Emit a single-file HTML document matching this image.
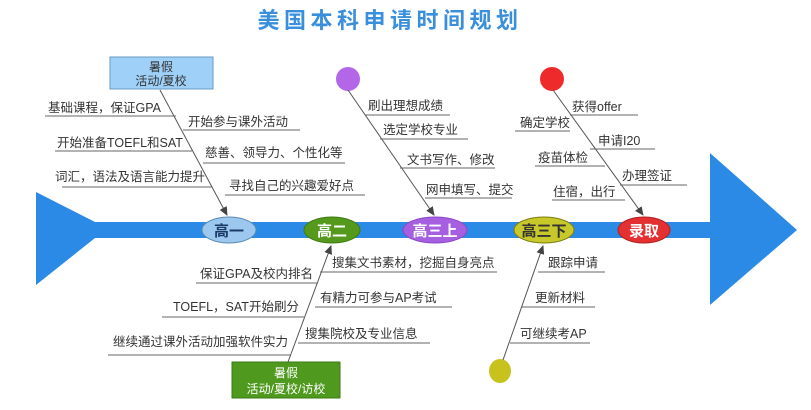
<!DOCTYPE html>
<html><head><meta charset="utf-8"><style>
html,body{margin:0;padding:0;background:#fff;}
svg{display:block;}
text{font-family:"Liberation Sans","Noto Sans CJK SC",sans-serif;}
.t{font-size:12.5px;fill:#333;}
.u{stroke:#666;stroke-width:1;}
.l{stroke:#555;stroke-width:1;fill:none;}
.e{font-size:15px;font-weight:bold;}
</style></head><body>
<svg width="811" height="410" viewBox="0 0 811 410" xmlns="http://www.w3.org/2000/svg">
<defs>
<marker id="ar" markerWidth="10" markerHeight="10" refX="8" refY="5" orient="auto" markerUnits="userSpaceOnUse">
<path d="M0,1 L9,5 L0,9 Z" fill="#444"/></marker>
</defs>
<rect width="811" height="410" fill="#fff"/>
<text x="390" y="28" text-anchor="middle" style="font-size:22px;font-weight:bold;letter-spacing:4.5px;fill:#3a8fdc">美国本科申请时间规划</text>

<polygon points="36,192 95,222 710,222 710,153 797,230 710,305 710,238 95,238 36,285" fill="#2b8ae6"/>

<!-- top box -->
<rect x="110" y="57" width="103" height="32" fill="#9fd0f8" stroke="#6a9ac0"/>
<text x="161" y="71" text-anchor="middle" class="t" style="font-size:12px">暑假</text>
<text x="161" y="85" text-anchor="middle" class="t" style="font-size:12px">活动/夏校</text>
<line x1="160" y1="90" x2="227" y2="215" class="l" marker-end="url(#ar)"/>

<text x="48" y="112" class="t">基础课程，保证GPA</text><line x1="45" y1="116" x2="176" y2="116" class="u"/>
<text x="188" y="126" class="t">开始参与课外活动</text><line x1="183" y1="130" x2="300" y2="130" class="u"/>
<text x="57" y="147" class="t">开始准备TOEFL和SAT</text><line x1="55" y1="151" x2="192" y2="151" class="u"/>
<text x="205" y="157" class="t">慈善、领导力、个性化等</text><line x1="203" y1="163" x2="345" y2="163" class="u"/>
<text x="55" y="181" class="t">词汇，语法及语言能力提升</text><line x1="62" y1="187" x2="212" y2="187" class="u"/>
<text x="229" y="190" class="t">寻找自己的兴趣爱好点</text><line x1="225" y1="195" x2="365" y2="195" class="u"/>

<!-- purple -->
<circle cx="348" cy="79" r="12" fill="#b366e8"/>
<line x1="348" y1="90" x2="434" y2="215" class="l" marker-end="url(#ar)"/>
<text x="368" y="110" class="t">刷出理想成绩</text><line x1="365" y1="115" x2="450" y2="115" class="u"/>
<text x="383" y="134" class="t">选定学校专业</text><line x1="380" y1="139" x2="468" y2="139" class="u"/>
<text x="407" y="164" class="t">文书写作、修改</text><line x1="400" y1="168" x2="495" y2="168" class="u"/>
<text x="426" y="194" class="t">网申填写、提交</text><line x1="425" y1="198" x2="512" y2="198" class="u"/>

<!-- red -->
<circle cx="552" cy="79" r="12" fill="#ee2a2a"/>
<line x1="553" y1="90" x2="643" y2="215" class="l" marker-end="url(#ar)"/>
<text x="572" y="111" class="t">获得offer</text><line x1="570" y1="115" x2="638" y2="115" class="u"/>
<text x="520" y="127" class="t">确定学校</text><line x1="515" y1="131" x2="570" y2="131" class="u"/>
<text x="598" y="145" class="t">申请I20</text><line x1="590" y1="149" x2="655" y2="149" class="u"/>
<text x="538" y="162" class="t">疫苗体检</text><line x1="535" y1="166" x2="605" y2="166" class="u"/>
<text x="622" y="180" class="t">办理签证</text><line x1="620" y1="185" x2="687" y2="185" class="u"/>
<text x="553" y="196" class="t">住宿，出行</text><line x1="552" y1="200" x2="625" y2="200" class="u"/>

<!-- bottom green -->
<rect x="232" y="362" width="108" height="36" fill="#4f9a1e" stroke="#3a7a12"/>
<text x="286" y="377" text-anchor="middle" style="font-size:12px;fill:#fff">暑假</text>
<text x="286" y="393" text-anchor="middle" style="font-size:12px;fill:#fff">活动/夏校/访校</text>
<line x1="288" y1="362" x2="331" y2="246" class="l" marker-end="url(#ar)"/>
<text x="332" y="267" class="t">搜集文书素材，挖掘自身亮点</text><line x1="320" y1="272" x2="497" y2="272" class="u"/>
<text x="200" y="278" class="t">保证GPA及校内排名</text><line x1="196" y1="283" x2="318" y2="283" class="u"/>
<text x="320" y="302" class="t">有精力可参与AP考试</text><line x1="315" y1="307" x2="452" y2="307" class="u"/>
<text x="173" y="311" class="t">TOEFL，SAT开始刷分</text><line x1="162" y1="317" x2="305" y2="317" class="u"/>
<text x="305" y="338" class="t">搜集院校及专业信息</text><line x1="298" y1="343" x2="430" y2="343" class="u"/>
<text x="113" y="346" class="t">继续通过课外活动加强软件实力</text><line x1="108" y1="355" x2="290" y2="355" class="u"/>

<!-- bottom yellow -->
<ellipse cx="500" cy="371" rx="11" ry="12" fill="#c8c21e"/>
<line x1="503" y1="360" x2="543" y2="246" class="l" marker-end="url(#ar)"/>
<text x="548" y="267" class="t">跟踪申请</text><line x1="538" y1="272" x2="605" y2="272" class="u"/>
<text x="535" y="302" class="t">更新材料</text><line x1="522" y1="307" x2="595" y2="307" class="u"/>
<text x="520" y="338" class="t">可继续考AP</text><line x1="510" y1="343" x2="590" y2="343" class="u"/>

<!-- stage ellipses -->
<ellipse cx="229" cy="230" rx="27" ry="13" fill="#9cc8f0" stroke="#5a8ab0"/>
<text x="229" y="236" text-anchor="middle" class="e" style="fill:#1a3a66">高一</text>
<ellipse cx="332" cy="230" rx="28" ry="13" fill="#55991c" stroke="#3d7a10"/>
<text x="332" y="236" text-anchor="middle" class="e" style="fill:#fff">高二</text>
<ellipse cx="435" cy="230" rx="32" ry="13" fill="#a65fe0" stroke="#8a48c4"/>
<text x="435" y="236" text-anchor="middle" class="e" style="fill:#fff">高三上</text>
<ellipse cx="544" cy="230" rx="30" ry="13" fill="#c8c82a" stroke="#7a7a10"/>
<text x="544" y="236" text-anchor="middle" class="e" style="fill:#333">高三下</text>
<ellipse cx="644" cy="230" rx="26" ry="13" fill="#e43030" stroke="#b02020"/>
<text x="644" y="236" text-anchor="middle" class="e" style="fill:#fff">录取</text>
</svg>
</body></html>
